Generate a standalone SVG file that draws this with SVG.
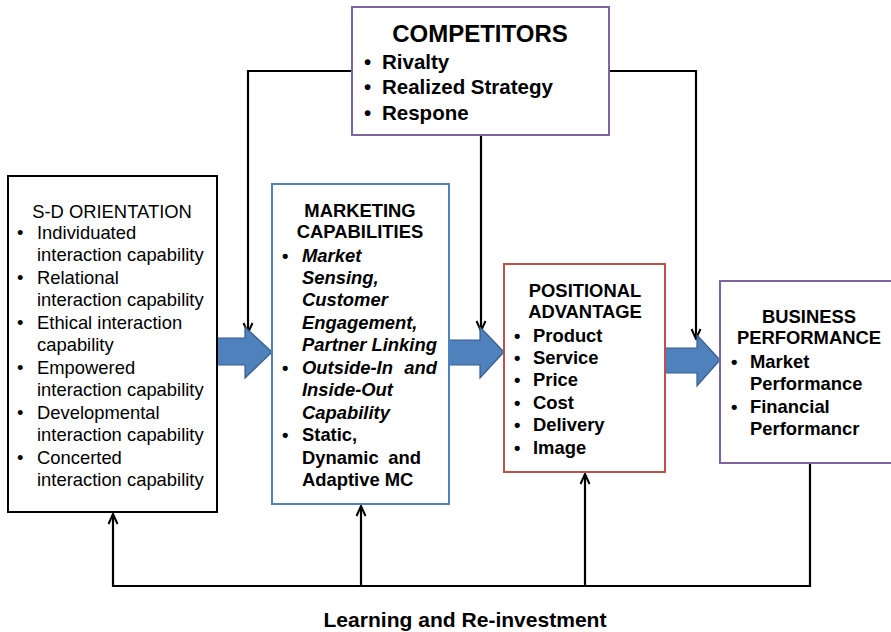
<svg xmlns="http://www.w3.org/2000/svg" width="891" height="632" viewBox="0 0 891 632">
  <style>
    text { font-family: "Liberation Sans", Arial, sans-serif; fill: #000; }
    .t18 { font-size: 18.4px; }
    .b { font-weight: bold; }
    .bi { font-weight: bold; font-style: italic; }
    .mid { text-anchor: middle; }
    .box { fill: #fff; stroke-width: 2; }
    .wire { fill: none; stroke: #000; stroke-width: 2.2; }
    .block { fill: #4f81bd; stroke: #385d8a; stroke-width: 1.2; }
  </style>
  <defs>
    <marker id="open" viewBox="0 0 12 12" refX="11" refY="6" markerWidth="12" markerHeight="12" markerUnits="userSpaceOnUse" orient="auto">
      <path d="M1,1.5 L11,6 L1,10.5" fill="none" stroke="#000" stroke-width="2"/>
    </marker>
  </defs>

  <!-- connectors -->
  <g id="connectors">
    <!-- from competitors down into the three block arrows -->
    <polyline class="wire" points="352,71 248,71 248,333" marker-end="url(#open)"/>
    <polyline class="wire" points="481,135 481,331" marker-end="url(#open)"/>
    <polyline class="wire" points="609,71 696,71 696,339" marker-end="url(#open)"/>
    <!-- learning and re-investment loop -->
    <polyline class="wire" points="810,463 810,586 113,586 113,514" marker-end="url(#open)"/>
    <line class="wire" x1="361" y1="586" x2="361" y2="506" marker-end="url(#open)"/>
    <line class="wire" x1="585" y1="586" x2="585" y2="474" marker-end="url(#open)"/>
    <!-- block arrows -->
    <path class="block" d="M217,338 L245,338 L245,327 L272,352 L245,378 L245,365 L217,365 Z"/>
    <path class="block" d="M449,340 L480,340 L480,327 L504,352 L480,378 L480,365 L449,365 Z"/>
    <path class="block" d="M665,348 L697,348 L697,335 L720,360 L697,386 L697,373 L665,373 Z"/>
  </g>

  <g id="competitors">
    <rect class="box" x="352" y="7" width="257" height="128" stroke="#8064a2"/>
    <text class="b mid" x="480" y="42" font-size="24">COMPETITORS</text>
    <g class="b" font-size="20.5">
      <text x="364" y="69">•</text><text x="382" y="69">Rivalty</text>
      <text x="364" y="94">•</text><text x="382" y="94">Realized Strategy</text>
      <text x="364" y="120">•</text><text x="382" y="120">Respone</text>
    </g>
  </g>

  <g id="sd-orientation">
    <rect class="box" x="8" y="176" width="209" height="336" stroke="#000"/>
    <g class="t18">
      <text class="mid" x="112" y="218">S-D ORIENTATION</text>
      <text x="17" y="239">•</text><text x="37" y="239">Individuated</text>
      <text x="37" y="261">interaction capability</text>
      <text x="17" y="284">•</text><text x="37" y="284">Relational</text>
      <text x="37" y="306">interaction capability</text>
      <text x="17" y="329">•</text><text x="37" y="329">Ethical interaction</text>
      <text x="37" y="351">capability</text>
      <text x="17" y="374">•</text><text x="37" y="374">Empowered</text>
      <text x="37" y="396">interaction capability</text>
      <text x="17" y="419">•</text><text x="37" y="419">Developmental</text>
      <text x="37" y="441">interaction capability</text>
      <text x="17" y="464">•</text><text x="37" y="464">Concerted</text>
      <text x="37" y="486">interaction capability</text>
    </g>
  </g>

  <g id="marketing-capabilities">
    <rect class="box" x="272" y="184" width="177" height="320" stroke="#4f81bd"/>
    <g class="t18">
      <text class="b mid" x="360" y="217">MARKETING</text>
      <text class="b mid" x="360" y="238">CAPABILITIES</text>
      <text class="b" x="282" y="262">•</text><text class="bi" x="302" y="262">Market</text>
      <text class="bi" x="302" y="284">Sensing,</text>
      <text class="bi" x="302" y="306">Customer</text>
      <text class="bi" x="302" y="329">Engagement,</text>
      <text class="bi" x="302" y="351">Partner Linking</text>
      <text class="b" x="282" y="374">•</text><text class="bi" x="302" y="374">Outside-In</text><text class="bi" x="437" y="374" text-anchor="end">and</text>
      <text class="bi" x="302" y="396">Inside-Out</text>
      <text class="bi" x="302" y="419">Capability</text>
      <text class="b" x="282" y="441">•</text><text class="b" x="302" y="441">Static,</text>
      <text class="b" x="302" y="464">Dynamic</text><text class="b" x="421" y="464" text-anchor="end">and</text>
      <text class="b" x="302" y="486">Adaptive MC</text>
    </g>
  </g>

  <g id="positional-advantage">
    <rect class="box" x="504" y="264" width="161" height="208" stroke="#c0504d"/>
    <g class="t18 b">
      <text class="mid" x="585" y="297">POSITIONAL</text>
      <text class="mid" x="585" y="318">ADVANTAGE</text>
      <text x="514" y="342">•</text><text x="533" y="342">Product</text>
      <text x="514" y="364">•</text><text x="533" y="364">Service</text>
      <text x="514" y="386">•</text><text x="533" y="386">Price</text>
      <text x="514" y="409">•</text><text x="533" y="409">Cost</text>
      <text x="514" y="431">•</text><text x="533" y="431">Delivery</text>
      <text x="514" y="454">•</text><text x="533" y="454">Image</text>
    </g>
  </g>

  <g id="business-performance">
    <rect class="box" x="720" y="281" width="180" height="182" stroke="#8064a2"/>
    <g class="t18 b">
      <text class="mid" x="809" y="323">BUSINESS</text>
      <text class="mid" x="809" y="344">PERFORMANCE</text>
      <text x="731" y="368">•</text><text x="750" y="368">Market</text>
      <text x="750" y="390">Performance</text>
      <text x="731" y="413">•</text><text x="750" y="413">Financial</text>
      <text x="750" y="435">Performancr</text>
    </g>
  </g>

  <text class="b mid" x="465" y="627" font-size="20.5" textLength="283" lengthAdjust="spacingAndGlyphs">Learning and Re-investment</text>
</svg>
